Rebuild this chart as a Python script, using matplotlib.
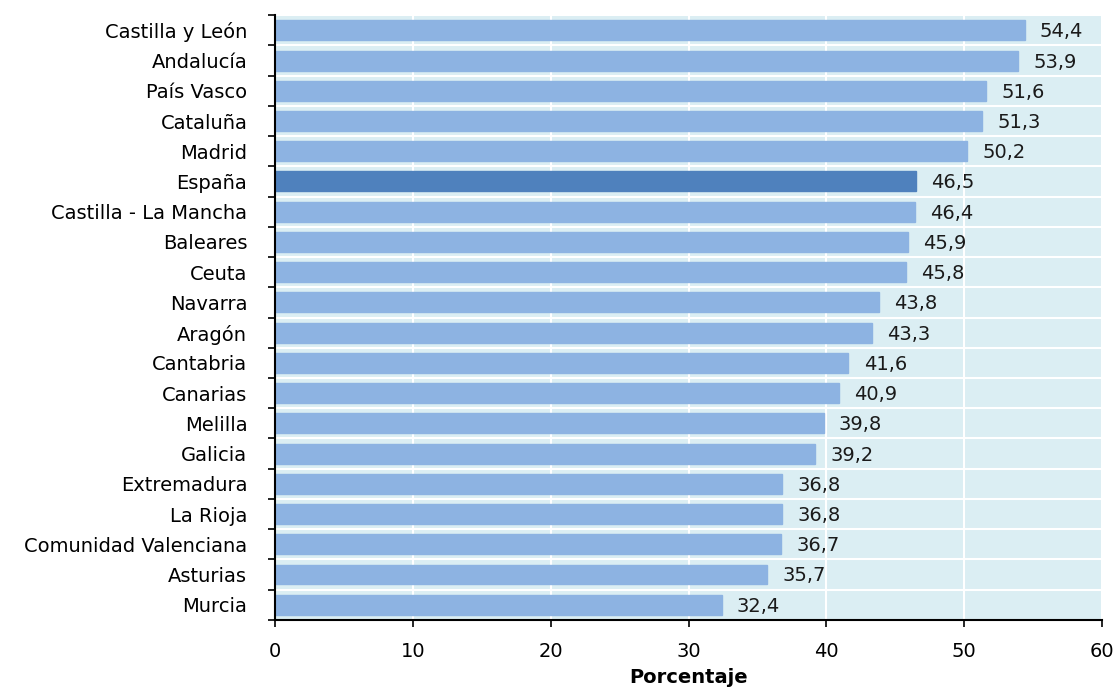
import matplotlib.pyplot as plt
import numpy as np

plt.rcParams['font.family'] = ['DejaVu Sans']

# --- data ---
regions = ["Castilla y León", "Andalucía", "País Vasco", "Cataluña", "Madrid",
           "España", "Castilla - La Mancha", "Baleares", "Ceuta", "Navarra",
           "Aragón", "Cantabria", "Canarias", "Melilla", "Galicia",
           "Extremadura", "La Rioja", "Comunidad Valenciana", "Asturias", "Murcia"]
values = [54.4, 53.9, 51.6, 51.3, 50.2, 46.5, 46.4, 45.9, 45.8, 43.8,
          43.3, 41.6, 40.9, 39.8, 39.2, 36.8, 36.8, 36.7, 35.7, 32.4]
highlight = "España"
x_ticks = [0, 10, 20, 30, 40, 50, 60]

bar_color = "#8db3e2"
hi_color = "#4f81bd"
bg_color = "#dbeef3"
fs = 14

fig = plt.figure(figsize=(11.18, 6.91), dpi=100)
ax = fig.add_axes([0.246, 0.103, 0.7397, 0.875])
ax.set_facecolor(bg_color)

y = np.arange(len(regions))
colors = [hi_color if r == highlight else bar_color for r in regions]
ax.barh(y, values, height=0.66, color=colors, edgecolor=colors, zorder=2)

# value labels, decimal comma
for yi, v in zip(y, values):
    ax.text(v + 1.1, yi + 0.05, f"{v:.1f}".replace(".", ","), va="center", ha="left",
            fontsize=fs, color="#1a1a1a", zorder=3)

ax.set_ylim(len(regions) - 0.5, -0.5)
ax.set_xlim(0, 60)
ax.set_yticks(y)
ax.set_yticklabels(regions, fontsize=fs)
ax.set_yticks(np.arange(len(regions) + 1) - 0.5, minor=True)
ax.tick_params(axis="y", which="major", length=0, pad=20)
ax.tick_params(axis="y", which="minor", length=5, width=1.2, direction="out")
ax.set_xticks(x_ticks)
ax.set_xticklabels([str(t) for t in x_ticks], fontsize=fs)
ax.tick_params(axis="x", length=5, width=1.2, direction="out", pad=11)

ax.grid(axis="x", which="major", color="white", linewidth=1.5, zorder=1)
ax.grid(axis="y", which="minor", color="white", linewidth=1.5, zorder=1)
ax.set_axisbelow(True)

for side in ["top", "right"]:
    ax.spines[side].set_visible(False)
for side in ["left", "bottom"]:
    ax.spines[side].set_linewidth(1.5)

ax.set_xlabel("Porcentaje", fontsize=fs, fontweight="bold", labelpad=5)

fig.savefig("out.png", dpi=100)
